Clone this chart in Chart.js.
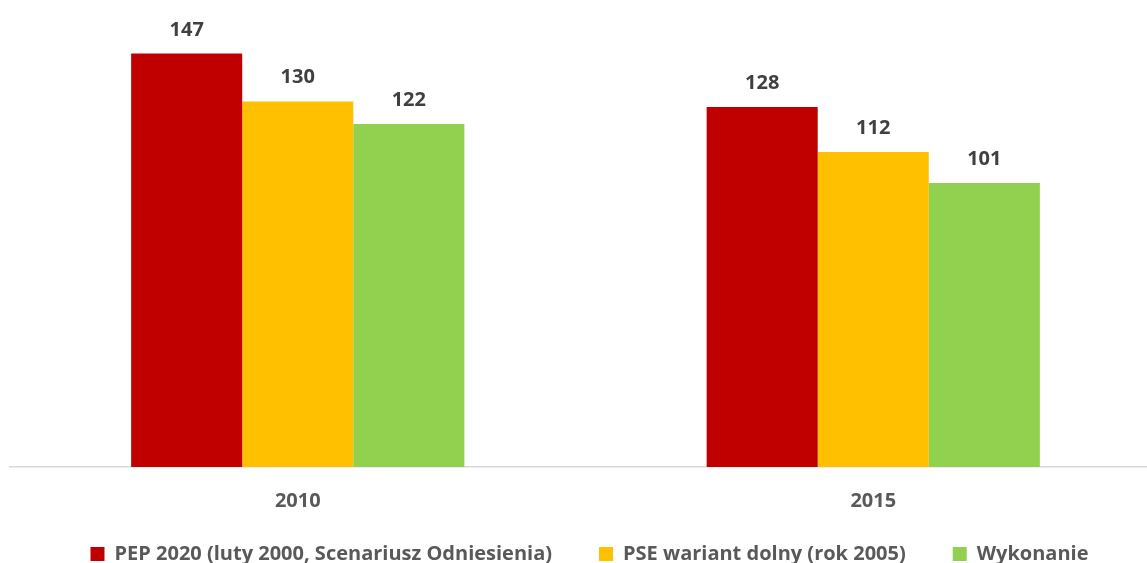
<!DOCTYPE html>
<html>
<head>
<meta charset="utf-8">
<script src="https://cdn.jsdelivr.net/npm/chart.js@4/dist/chart.umd.min.js"></script>
<style>
  html, body { margin: 0; padding: 0; background: #ffffff; overflow: hidden; }
  #wrap { width: 1147px; height: 563px; overflow: hidden; position: relative; }
  canvas { display: block; }
</style>
</head>
<body>
<div id="wrap"><canvas id="chart" width="1180" height="563"></canvas></div>
<script>
// Categories and series values
const years = ['2010', '2015'];
const pep2020 = [147, 128];
const pseLower = [130, 112];
const actual = [122, 101];
const seriesNames = [
  'PEP 2020 (luty 2000, Scenariusz Odniesienia)',
  'PSE wariant dolny (rok 2005)',
  'Wykonanie'
];
const seriesColors = ['#C00000', '#FFC000', '#92D050'];

const FONT = '"Open Sans", Lato, sans-serif';

// Draws each bar's value above it
const valueLabels = {
  id: 'valueLabels',
  afterDatasetsDraw(chart) {
    const ctx = chart.ctx;
    ctx.save();
    ctx.font = 'bold 20px ' + FONT;
    ctx.fillStyle = '#404040';
    ctx.textAlign = 'center';
    ctx.textBaseline = 'alphabetic';
    chart.data.datasets.forEach((ds, i) => {
      const meta = chart.getDatasetMeta(i);
      meta.data.forEach((bar, j) => {
        ctx.fillText(String(ds.data[j]), bar.x, bar.y - 18);
      });
    });
    ctx.restore();
  }
};

// Lets the category labels extend below the compact x-axis box,
// and nudges the legend row slightly to the right
const layoutTweaks = {
  id: 'layoutTweaks',
  afterLayout(chart) {
    chart.scales.x.bottom = chart.height;
    if (chart.legend) {
      chart.legend.left += 4;
      chart.legend.right += 4;
    }
  }
};

new Chart(document.getElementById('chart'), {
  type: 'bar',
  data: {
    labels: years,
    datasets: [
      { label: seriesNames[0], data: pep2020, backgroundColor: seriesColors[0] },
      { label: seriesNames[1], data: pseLower, backgroundColor: seriesColors[1] },
      { label: seriesNames[2], data: actual, backgroundColor: seriesColors[2] }
    ]
  },
  options: {
    responsive: false,
    animation: false,
    devicePixelRatio: 1,
    layout: { padding: { top: 17, left: 10, right: 19, bottom: 0 } },
    datasets: {
      bar: { categoryPercentage: 0.579, barPercentage: 1.0, borderWidth: 0 }
    },
    scales: {
      x: {
        grid: { display: false, drawTicks: false },
        border: { display: true, color: '#d9d9d9', width: 1.5 },
        ticks: {
          color: '#595959',
          padding: 22,
          font: { family: FONT, size: 20, weight: 'bold' }
        },
        afterFit(scale) { scale.height = 30; }
      },
      y: {
        display: false,
        min: 0,
        max: 160
      }
    },
    plugins: {
      legend: {
        position: 'bottom',
        maxHeight: 66,
        labels: {
          color: '#595959',
          boxWidth: 14,
          boxHeight: 14,
          padding: 47,
          font: { family: FONT, size: 20, weight: 'bold' }
        }
      },
      tooltip: { enabled: false }
    }
  },
  plugins: [valueLabels, layoutTweaks]
});
</script>
</body>
</html>
